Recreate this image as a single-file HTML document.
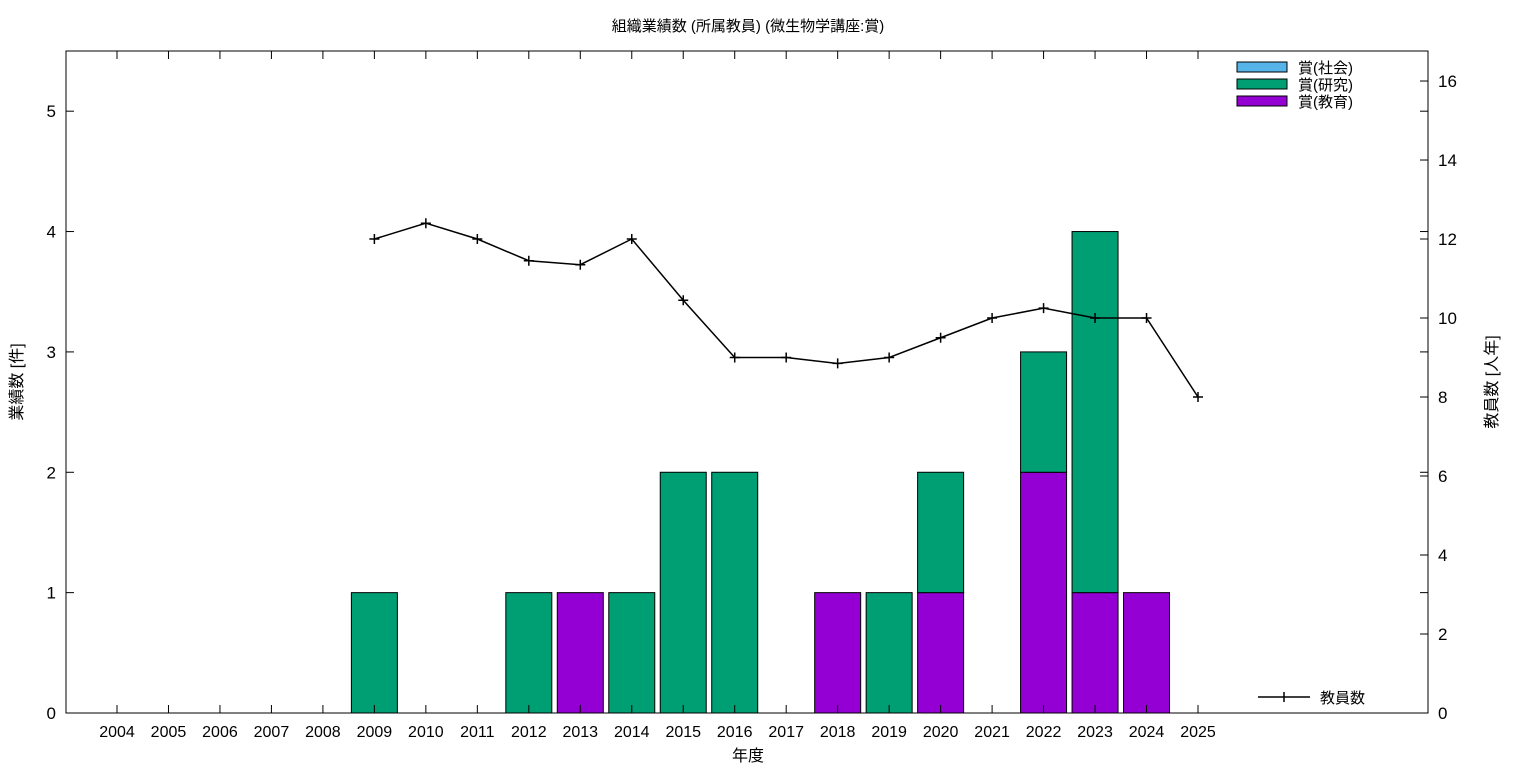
<!DOCTYPE html>
<html><head><meta charset="utf-8">
<style>
html,body{margin:0;padding:0;background:#fff;}
svg{display:block;font-family:"Liberation Sans","Noto Sans CJK JP",sans-serif;}
</style></head>
<body>
<svg id="chart" width="1536" height="768" xmlns="http://www.w3.org/2000/svg"></svg>
<script>
const years = [2004,2005,2006,2007,2008,2009,2010,2011,2012,2013,2014,2015,2016,2017,2018,2019,2020,2021,2022,2023,2024,2025];
const awardSocial = [0,0,0,0,0,0,0,0,0,0,0,0,0,0,0,0,0,0,0,0,0,0];
const awardResearch = [0,0,0,0,0,1,0,0,1,0,1,2,2,0,0,1,1,0,1,3,0,0];
const awardEducation = [0,0,0,0,0,0,0,0,0,1,0,0,0,0,1,0,1,0,2,1,1,0];
const staff = [null,null,null,null,null,12.0,12.4,12.0,11.45,11.35,12.0,10.45,9.0,9.0,8.85,9.0,9.5,10.0,10.25,10.0,10.0,8.0];
const leftTicks = [0,1,2,3,4,5];
const rightTicks = [0,2,4,6,8,10,12,14,16];

const NS="http://www.w3.org/2000/svg";
const svg=document.getElementById('chart');
const L=66,R=1428,T=51,B=713;
const yL=v=>B-v*(B-T)/5.5;
const yR=v=>B-v*(B-T)/16.76;
const xC=i=>117+i*(1198-117)/21;
const bw=46;
function el(tag,attrs,parent){const e=document.createElementNS(NS,tag);for(const k in attrs)e.setAttribute(k,attrs[k]);(parent||svg).appendChild(e);return e;}
function txt(s,attrs){const e=el('text',attrs);e.textContent=s;return e;}

// bars
const gBars=el('g',{});


years.forEach((yr,i)=>{
  let base=0;
  [[awardEducation,'#9400d3','education'],[awardResearch,'#009e73','research'],[awardSocial,'#56b4e9','social']].forEach(([arr,col,nm])=>{
    const v=arr[i]; if(!v) return;
    const r=el('rect',{x:xC(i)-bw/2,y:yL(base+v),width:bw,height:yL(base)-yL(base+v),fill:col,stroke:'#000','stroke-width':1},gBars);
    
    
    base+=v;
  });
});

// frame
const fr=el('rect',{x:L,y:T,width:R-L,height:B-T,fill:'none',stroke:'#000','stroke-width':1});



// left ticks
leftTicks.forEach(v=>{
  const y=yL(v);
  el('line',{x1:L,y1:y,x2:L+8,y2:y,stroke:'#000'});
  el('line',{x1:R,y1:y,x2:R-8,y2:y,stroke:'#000'});
  const t=txt(String(v),{x:L-10,y:y+6,'text-anchor':'end','font-size':17});
  
  
});
rightTicks.forEach(v=>{
  const y=yR(v);
  el('line',{x1:R,y1:y,x2:R-8,y2:y,stroke:'#000'});
  const t=txt(String(v),{x:R+10,y:y+6,'text-anchor':'start','font-size':17});
  
  
});
years.forEach((yr,i)=>{
  const x=xC(i);
  el('line',{x1:x,y1:B,x2:x,y2:B-8,stroke:'#000'});
  el('line',{x1:x,y1:T,x2:x,y2:T+8,stroke:'#000'});
  const t=txt(String(yr),{x:x,y:737,'text-anchor':'middle','font-size':16});
  
  
});

// line
let d='';
staff.forEach((v,i)=>{if(v==null)return;d+=(d?'L':'M')+xC(i)+','+yR(v);});
const ln=el('path',{d:d,fill:'none',stroke:'#000','stroke-width':1.5});


staff.forEach((v,i)=>{if(v==null)return;
  const p=el('path',{d:`M${xC(i)-5},${yR(v)}h10M${xC(i)},${yR(v)-5}v10`,stroke:'#000','stroke-width':1.5});
  
  
});

// titles
let t=txt('組織業績数 (所属教員) (微生物学講座:賞)',{x:748,y:31,'text-anchor':'middle','font-size':15});

t=txt('年度',{x:748,y:761,'text-anchor':'middle','font-size':16});

t=txt('業績数 [件]',{x:0,y:0,'text-anchor':'middle','font-size':16,transform:'translate(22,382) rotate(-90)'});

t=txt('教員数 [人年]',{x:0,y:0,'text-anchor':'middle','font-size':16,transform:'translate(1497,382) rotate(-90)'});


// legend
[['賞(社会)','#56b4e9',67],['賞(研究)','#009e73',84],['賞(教育)','#9400d3',101]].forEach(([s,c,y])=>{
  const g=el('g',{});
  
  
  el('rect',{x:1237,y:y-5,width:50,height:10,fill:c,stroke:'#000'},g);
  const tt=el('text',{x:1298,y:y+6,'font-size':15},g);tt.textContent=s;
});
const lg=el('g',{});


el('path',{d:'M1258,697h52M1284,692v10',stroke:'#000','stroke-width':1.5},lg);
const lt=el('text',{x:1320,y:703,'font-size':15},lg);lt.textContent='教員数';
</script>
</body></html>
